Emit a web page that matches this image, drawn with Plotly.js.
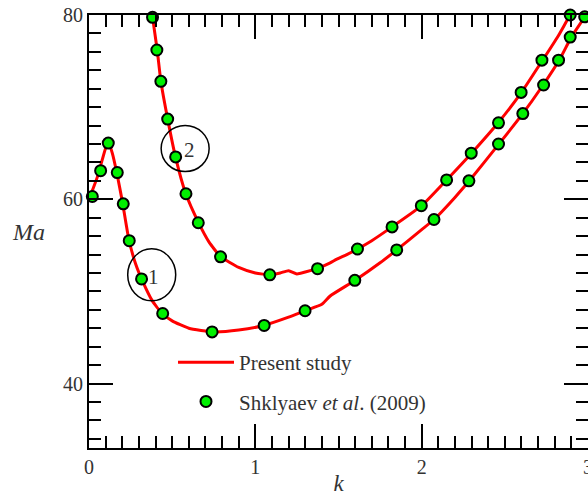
<!DOCTYPE html>
<html>
<head>
<meta charset="utf-8">
<script src="https://cdn.plot.ly/plotly-3.0.1.min.js"></script>
<style>html,body{margin:0;padding:0;background:#fff;}#chart{width:588px;height:496px;}</style>
</head>
<body>
<div id="chart"></div>
<script>
// Present study, mode 1 (line)
const line1K  = [0, 0.05, 0.08, 0.115, 0.14, 0.17, 0.2, 0.24, 0.28, 0.32, 0.38, 0.44, 0.5, 0.6, 0.75, 0.9, 1.05, 1.2, 1.3, 1.4, 1.45, 1.6, 1.75, 1.85, 2.0, 2.074, 2.2, 2.3, 2.46, 2.6, 2.73, 2.83, 2.9, 3.0];
const line1Ma = [60.0, 62.4, 64.3, 66.3, 65.0, 62.6, 59.8, 55.6, 53.0, 51.2, 49.0, 47.6, 46.8, 46.0, 45.6, 45.8, 46.3, 47.2, 47.9, 48.6, 49.5, 51.2, 53.1, 54.5, 56.7, 57.8, 60.2, 62.3, 65.9, 69.1, 72.4, 75.2, 77.6, 80.3];
// Present study, mode 2 (line)
const line2K  = [0.375, 0.382, 0.41, 0.432, 0.473, 0.52, 0.58, 0.66, 0.72, 0.79, 0.9, 1.0, 1.09, 1.15, 1.2, 1.25, 1.3, 1.374, 1.45, 1.49, 1.55, 1.614, 1.7, 1.822, 2.0, 2.15, 2.3, 2.46, 2.6, 2.72, 2.82, 2.893, 2.95];
const line2Ma = [81.0, 79.8, 76.2, 72.8, 68.7, 64.6, 60.7, 57.4, 55.4, 53.8, 52.6, 52.0, 51.8, 52.0, 52.25, 51.9, 52.1, 52.5, 53.1, 53.5, 54.0, 54.6, 55.5, 57.0, 59.3, 62.1, 65.0, 68.3, 71.6, 74.9, 77.7, 80.0, 81.5];
// Shklyaev et al. (2009), mode 1 (points)
const pts1K  = [0.02, 0.07, 0.116, 0.17, 0.206, 0.242, 0.316, 0.443, 0.74, 1.053, 1.299, 1.598, 1.85, 2.074, 2.284, 2.462, 2.608, 2.733, 2.823, 2.893, 2.98];
const pts1Ma = [60.3, 63.1, 66.1, 62.9, 59.5, 55.5, 51.35, 47.6, 45.6, 46.3, 47.9, 51.2, 54.5, 57.8, 62.0, 66.0, 69.3, 72.4, 75.1, 77.6, 79.8];
// Shklyaev et al. (2009), mode 2 (points)
const pts2K  = [0.382, 0.408, 0.432, 0.473, 0.521, 0.583, 0.657, 0.791, 1.087, 1.374, 1.614, 1.822, 1.998, 2.15, 2.298, 2.462, 2.598, 2.723, 2.893];
const pts2Ma = [79.75, 76.2, 72.8, 68.7, 64.6, 60.6, 57.45, 53.75, 51.8, 52.46, 54.6, 57.0, 59.3, 62.1, 65.0, 68.3, 71.6, 75.1, 80.0];
// Mode labels
const modeLabels = ['1', '2'];
const modeLabelK = [0.388, 0.602];
const modeLabelMa = [51.6, 65.4];
const modeCircleK = [0.377, 0.578];
const modeCircleMa = [51.8, 65.5];

const serif = '"Liberation Serif", "Times New Roman", Times, serif';
const txt = '#333333';
const red = '#ff0000';
const green = '#00f000';

const lineStyle = {color: red, width: 3, shape: 'spline', smoothing: 0.5};
const markerStyle = {color: green, size: 11, line: {color: '#000', width: 2}};

const traces = [
  {x: line1K, y: line1Ma, mode: 'lines', line: lineStyle, name: 'Present study', legendgroup: 'a', showlegend: true},
  {x: line2K, y: line2Ma, mode: 'lines', line: lineStyle, name: 'Present study', legendgroup: 'a', showlegend: false},
  {x: pts1K, y: pts1Ma, mode: 'markers', marker: markerStyle, cliponaxis: false, name: 'Shklyaev <i>et al</i>. (2009)', legendgroup: 'b', showlegend: true},
  {x: pts2K, y: pts2Ma, mode: 'markers', marker: markerStyle, cliponaxis: false, name: 'Shklyaev <i>et al</i>. (2009)', legendgroup: 'b', showlegend: false}
];

const shapes = modeCircleK.map((k, i) => ({
  type: 'circle', xref: 'x', yref: 'y', xsizemode: 'pixel', ysizemode: 'pixel',
  xanchor: k, yanchor: modeCircleMa[i],
  x0: -24, x1: 24, y0: i === 0 ? -26 : -23, y1: i === 0 ? 26 : 23,
  line: {color: '#000', width: 1.5}
}));

const annotations = modeLabels.map((t, i) => ({
  x: modeLabelK[i], y: modeLabelMa[i], xref: 'x', yref: 'y', text: t, showarrow: false,
  font: {family: serif, size: 21, color: txt}
}));
annotations.push({
  x: (28 - 89) / 499, y: (448 - 232) / 433, xref: 'paper', yref: 'paper',
  xanchor: 'center', yanchor: 'middle',
  text: '<i>Ma</i>', showarrow: false,
  font: {family: serif, size: 24, color: txt}
});

const axisCommon = {
  showgrid: false, zeroline: false, showline: true, linecolor: '#000', linewidth: 2,
  ticks: 'inside', ticklen: 24, tickwidth: 2, tickcolor: '#000', mirror: 'allticks',
  ticklabeloverflow: 'allow',
  tickfont: {family: serif, size: 20, color: txt}
};

const layout = {
  width: 588, height: 496,
  margin: {l: 89, r: 0, t: 15, b: 48},
  paper_bgcolor: '#fff', plot_bgcolor: '#fff',
  font: {family: serif, color: txt},
  xaxis: Object.assign({}, axisCommon, {
    range: [0, 3], tickvals: [0, 1, 2, 3],
    minor: {dtick: 0.1, ticklen: 12, tickwidth: 2, tickcolor: '#000', ticks: 'inside'},
    title: {text: '<i>k</i>', font: {family: serif, size: 23, color: txt}, standoff: 2}
  }),
  yaxis: Object.assign({}, axisCommon, {
    range: [33, 80], tickvals: [40, 60, 80],
    minor: {dtick: 2, tick0: 0, ticklen: 12, tickwidth: 2, tickcolor: '#000', ticks: 'inside'}
  }),
  showlegend: true,
  legend: {
    x: (173 - 89) / 499, y: (448 - 342) / 433, xanchor: 'left', yanchor: 'top',
    bgcolor: 'rgba(0,0,0,0)', borderwidth: 0,
    font: {family: serif, size: 21, color: txt},
    traceorder: 'grouped', tracegroupgap: 9, itemwidth: 56
  },
  shapes: shapes,
  annotations: annotations
};

Plotly.newPlot('chart', traces, layout, {staticPlot: true, displayModeBar: false});
</script>
</body>
</html>
